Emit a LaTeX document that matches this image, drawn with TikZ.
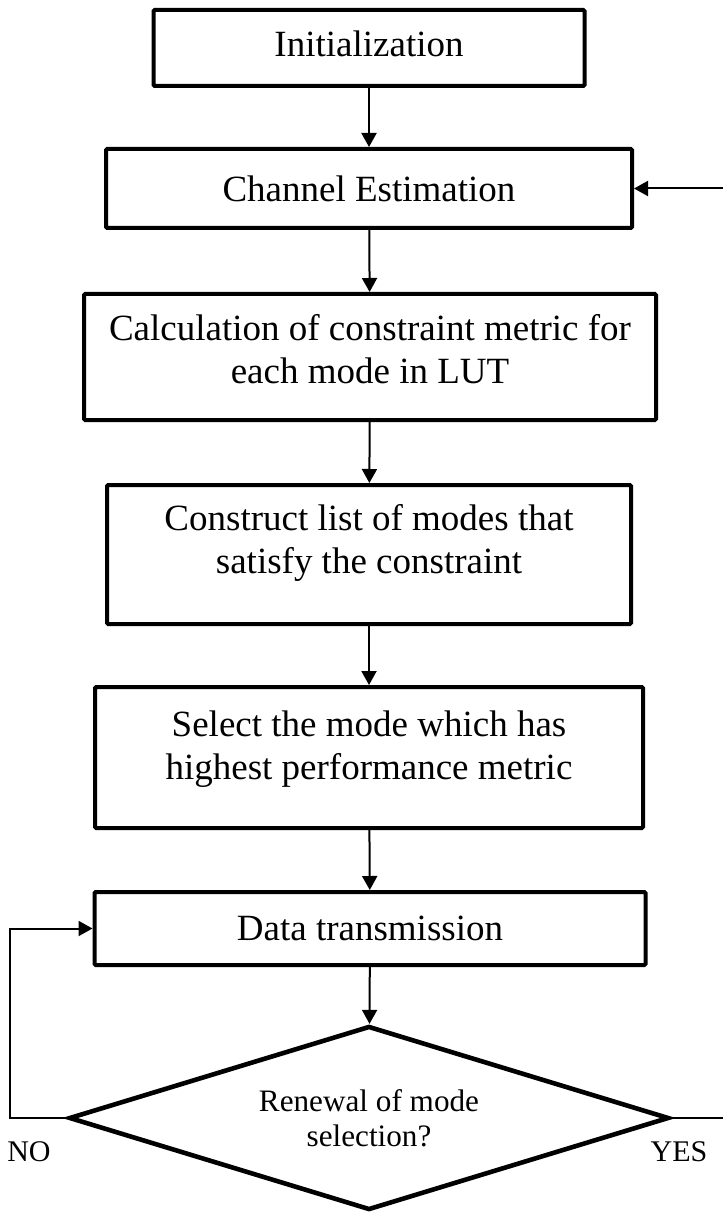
\documentclass[tikz,border=0pt]{standalone}
\usepackage{fontspec}
\setmainfont{Liberation Serif}
\usetikzlibrary{arrows.meta,shapes.geometric}
\tikzset{
  procbox/.style={draw,line width=2pt,rounded corners=0.6pt,inner sep=0pt,align=center,
    font=\fontsize{18.5}{21.5}\selectfont},
  decbox/.style={draw,diamond,aspect=3.28,line width=2.3pt,inner sep=0pt,align=center,
    font=\fontsize{15.6}{17.5}\selectfont},
  flow/.style={line width=1pt,-{Triangle[length=7pt,width=7.5pt]}},
  answer/.style={font=\fontsize{15}{17}\selectfont},
}
\begin{document}
\begin{tikzpicture}[x=0.5pt,y=-0.5pt]
    \useasboundingbox (0,0) rectangle (723,1213);
    % steps of the mode selection
    \node[procbox,minimum width=215.5pt,minimum height=38pt,text depth=4pt] (init) at (369,48) {Initialization};
    \node[procbox,minimum width=263pt,minimum height=39.5pt] (ce) at (369,188.5) {Channel Estimation};
    \node[procbox,minimum width=286pt,minimum height=63pt,text depth=8pt] (calc) at (370,357)
      {Calculation of constraint metric for\\each mode in LUT};
    \node[procbox,minimum width=262pt,minimum height=69.5pt,text depth=16pt] (list) at (369,554.5)
      {Construct list of modes that\\satisfy the constraint};
    \node[procbox,minimum width=274pt,minimum height=70.5pt,text depth=12pt] (select) at (369,757.5)
      {Select the mode which has\\highest performance metric};
    \node[procbox,minimum width=275.5pt,minimum height=36.5pt] (data) at (370,928.5) {Data transmission};
    \node[decbox,minimum width=300pt,minimum height=92pt] (dec) at (369,1118)
      {Renewal of mode\\selection?};
    \node[answer] (no) at (29,1152) {NO};
    \node[answer] (yes) at (679,1152) {YES};
    \coordinate (back) at (723,188.5);
    \coordinate (yesend) at (723,1118);
    % connectors
    \foreach \a/\b in {init/ce,ce/calc,calc/list,list/select,select/data,data/dec}{
      \draw[flow] (\a) -- (\b);
    }
    \draw[flow] (dec.west) -- ++(-57,0) |- (data.west);
    \draw[line width=1pt] (dec.east) -- (yesend);
    \draw[flow] (back) -- (ce.east);
  \end{tikzpicture}
\end{document}
